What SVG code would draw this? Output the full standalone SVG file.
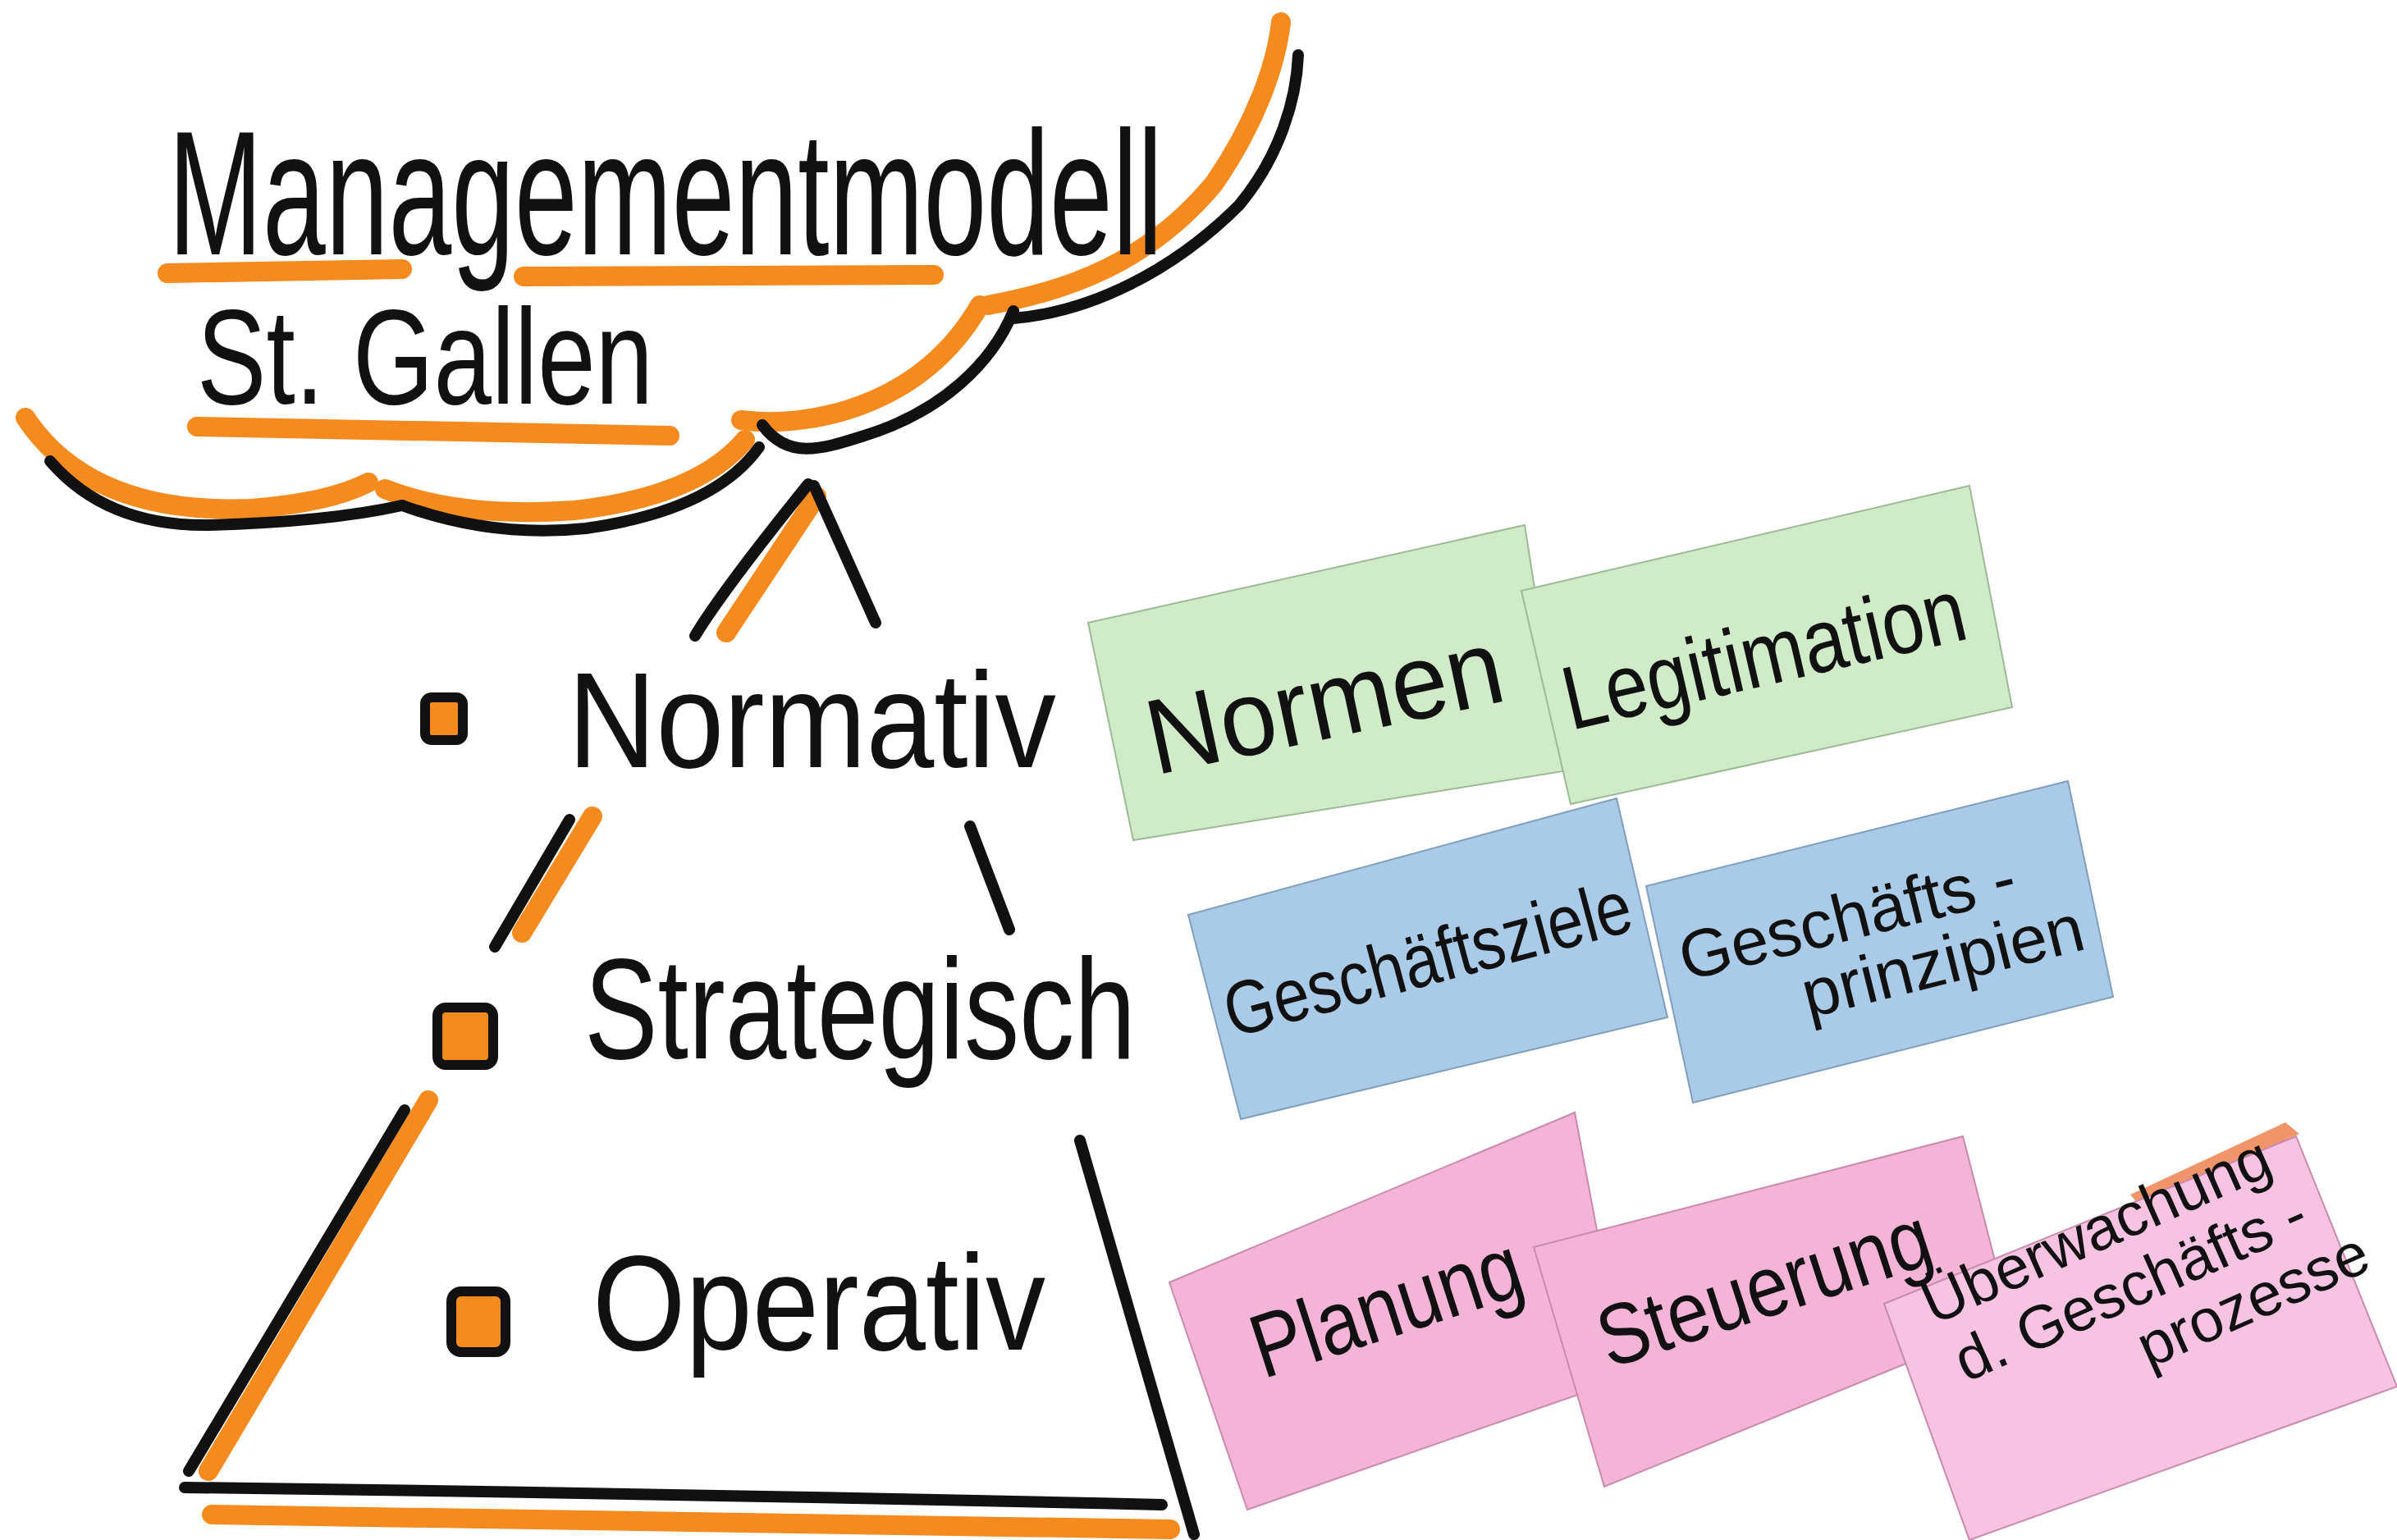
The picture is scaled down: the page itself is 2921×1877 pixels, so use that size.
<svg xmlns="http://www.w3.org/2000/svg" width="2921" height="1877" viewBox="0 0 2921 1877">
<style>
.ink{fill:none;stroke:#111;stroke-width:14;stroke-linecap:round;stroke-linejoin:round}
.hl{fill:none;stroke:#f58a1f;stroke-width:24;stroke-linecap:round;stroke-linejoin:round}
.hand{font-family:"Liberation Sans","DejaVu Sans",sans-serif;fill:#111}
.green{fill:#d0ebc8;stroke:#9db995;stroke-width:2}
.blue{fill:#a9cbe8;stroke:#7f9fbb;stroke-width:2}
.pink{fill:#f4b4d8;stroke:#c98aae;stroke-width:2}
.pink3{fill:#f6c3e2;stroke:#c98aae;stroke-width:2}
.bullet{fill:#f58a1f;stroke:#111;stroke-width:12;stroke-linejoin:round}
</style>
<rect width="2921" height="1877" fill="#ffffff"/>

<g id="connectors">
  <!-- cloud / banner -->
  <path class="hl" d="M31,509 Q110,628 306,620 Q400,613 449,588"/>
  <path class="hl" d="M469,596 Q560,632 700,622 Q850,605 908,536"/>
  <path class="hl" d="M903,512 C980,522 1120,500 1194,372"/>
  <path class="hl" d="M1204,372 C1300,355 1400,320 1480,223 C1530,150 1555,80 1561,27"/>
  <path class="ink" d="M61,562 Q130,642 255,640 Q400,636 490,616"/>
  <path class="ink" d="M490,616 Q600,656 714,644 Q870,622 925,545"/>
  <path class="ink" d="M929,518 C960,560 1000,548 1050,532 C1150,502 1210,440 1235,379"/>
  <path class="ink" d="M1235,388 C1330,380 1430,330 1510,250 C1560,190 1580,120 1582,67"/>
  <!-- title underlines -->
  <path class="hl" d="M204,333 L490,328" stroke-width="30"/>
  <path class="hl" d="M638,337 L1138,335" stroke-width="30"/>
  <path class="hl" d="M240,520 L816,531" stroke-width="30"/>
  <!-- pyramid -->
  <path class="hl" d="M885,771 L995,605"/>
  <path class="ink" d="M847,775 Q880,720 985,590"/>
  <path class="ink" d="M992,592 L1067,759"/>
  <path class="hl" d="M636,1137 L722,995"/>
  <path class="ink" d="M603,1154 L694,999"/>
  <path class="ink" d="M1182,1007 L1230,1133"/>
  <path class="hl" d="M254,1793 L522,1341"/>
  <path class="ink" d="M230,1793 L493,1353"/>
  <path class="ink" d="M1316,1390 L1455,1870"/>
  <path class="hl" d="M258,1846 L1426,1864"/>
  <path class="ink" d="M225,1813 Q800,1820 1416,1834"/>
</g>

<g id="title">
  <text class="hand" x="205" y="310" font-size="215" textLength="1212" lengthAdjust="spacingAndGlyphs">Managementmodell</text>
  <text class="hand" x="240" y="492" font-size="165" textLength="556" lengthAdjust="spacingAndGlyphs">St. Gallen</text>
</g>

<g id="level-normativ">
  <rect class="bullet" x="518" y="850" width="46" height="52" rx="8"/>
  <text class="hand" x="692" y="935" font-size="165" textLength="595" lengthAdjust="spacingAndGlyphs">Normativ</text>
</g>
<g id="level-strategisch">
  <rect class="bullet" x="533" y="1228" width="68" height="70" rx="10"/>
  <text class="hand" x="712" y="1290" font-size="175" textLength="672" lengthAdjust="spacingAndGlyphs">Strategisch</text>
</g>
<g id="level-operativ">
  <rect class="bullet" x="550" y="1574" width="66" height="74" rx="12"/>
  <text class="hand" x="722" y="1645" font-size="165" textLength="552" lengthAdjust="spacingAndGlyphs">Operativ</text>
</g>

<g id="card-normen">
  <polygon class="green" points="1326,759 1858,640 1905,940 1381,1024"/>
  <text class="hand" x="1615" y="900" font-size="130" text-anchor="middle" textLength="440" lengthAdjust="spacingAndGlyphs" transform="rotate(-12 1615 860)">Normen</text>
</g>
<g id="card-legitimation">
  <polygon class="green" points="1854,720 2400,592 2452,862 1914,980"/>
  <text class="hand" x="2150" y="835" font-size="110" text-anchor="middle" textLength="500" lengthAdjust="spacingAndGlyphs" transform="rotate(-13 2150 800)">Legitimation</text>
</g>
<g id="card-geschaeftsziele">
  <polygon class="blue" points="1448,1115 1970,973 2032,1240 1512,1364"/>
  <text class="hand" x="1740" y="1200" font-size="92" text-anchor="middle" textLength="510" lengthAdjust="spacingAndGlyphs" transform="rotate(-15 1740 1170)">Geschäftsziele</text>
</g>
<g id="card-geschaeftsprinzipien">
  <polygon class="blue" points="2006,1080 2520,952 2575,1215 2063,1344"/>
  <g transform="translate(2300,1150) rotate(-14)">
    <text class="hand" x="-40" y="-15" font-size="82" text-anchor="middle">Geschäfts -</text>
    <text class="hand" x="60" y="65" font-size="82" text-anchor="middle">prinzipien</text>
  </g>
</g>
<g id="card-planung">
  <polygon class="pink" points="1425,1563 1919,1356 1980,1680 1520,1840"/>
  <text class="hand" x="1690" y="1630" font-size="110" text-anchor="middle" textLength="340" lengthAdjust="spacingAndGlyphs" transform="rotate(-18 1690 1595)">Planung</text>
</g>
<g id="card-steuerung">
  <polygon class="pink" points="1869,1520 2392,1385 2450,1610 1955,1812"/>
  <text class="hand" x="2150" y="1605" font-size="105" text-anchor="middle" textLength="420" lengthAdjust="spacingAndGlyphs" transform="rotate(-18 2150 1570)">Steuerung</text>
</g>
<g id="card-ueberwachung">
  <polygon points="2596,1456 2785,1368 2802,1382 2606,1468" fill="#f0956a"/>
  <polygon class="pink3" points="2296,1589 2798,1385 2921,1690 2400,1877"/>
  <g transform="translate(2590,1555) rotate(-24)">
    <text class="hand" x="-10" y="-40" font-size="74" text-anchor="middle">Überwachung</text>
    <text class="hand" x="0" y="40" font-size="74" text-anchor="middle">d. Geschäfts -</text>
    <text class="hand" x="130" y="115" font-size="74" text-anchor="middle">prozesse</text>
  </g>
</g>
</svg>
